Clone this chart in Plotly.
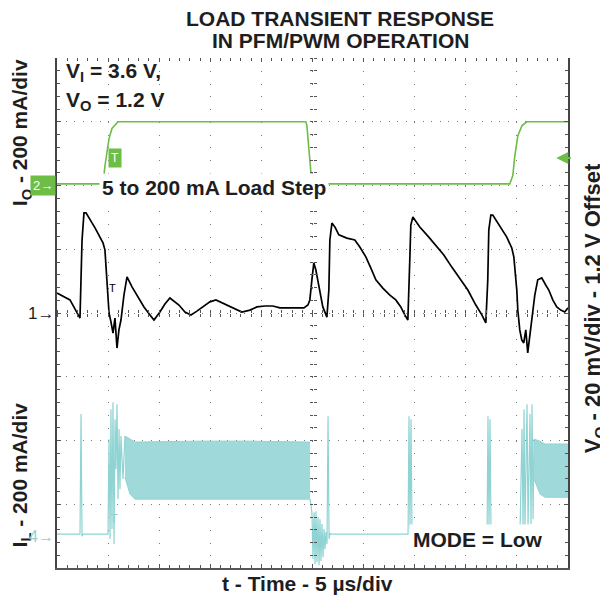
import plotly.graph_objects as go

# ---------------- data ----------------
# time base: 5 us/div, 10 divisions
T_RANGE = [0, 50]

# Channel 2 : output current I_O (mA), 200 mA/div, ground marker at +2 div
io_t = [0.0, 4.5, 4.7, 4.9, 5.09, 5.38, 5.67, 5.97, 15.0, 24.35, 24.45, 24.65, 24.84, 24.94,
        35.0, 44.3, 44.6, 44.8, 45.1, 45.5, 45.97, 50.0]
io_mA = [5, 5, 63, 110, 147, 179, 191, 200, 200, 200, 188, 110, 38, 5,
         5, 5, 31, 94, 157, 188, 200, 200]

# Channel 1 : output voltage deviation V_O (mV, 1.2 V offset), 20 mV/div, marker at 0 div
vo_t = [0.0, 1.27, 2.25, 2.45, 2.64, 2.84, 3.72, 4.5, 4.69, 4.89, 5.09, 5.28, 5.48, 5.67, 5.87,
        6.06, 6.26, 6.55, 6.85, 7.34, 7.92, 8.51, 9.1, 9.49, 10.07, 10.56, 11.05, 11.54, 11.93,
        12.52, 13.11, 13.69, 14.28, 14.96, 15.55, 16.23, 16.92, 18.09, 18.88, 19.56, 20.34,
        21.12, 21.81, 22.59, 23.37, 24.16, 24.55, 24.74, 24.94, 25.13, 25.33, 25.53, 25.82,
        26.01, 26.41, 26.6, 26.7, 26.9, 27.19, 27.58, 28.36, 29.14, 29.63, 30.22, 30.71, 31.2,
        31.88, 32.57, 33.15, 33.64, 34.03, 34.33, 34.52, 34.62, 34.82, 35.5, 36.38, 37.07,
        37.85, 38.63, 39.41, 40.2, 40.98, 41.57, 41.96, 42.15, 42.25, 42.45, 42.64, 43.33,
        44.01, 44.5, 44.7, 44.99, 45.09, 45.28, 45.48, 45.67, 45.87, 46.06, 46.26, 46.45,
        46.75, 47.04, 47.43, 47.82, 48.12, 48.51, 48.9, 49.29, 49.68, 50.0]
vo_mV = [6.3, 4.1, -1.6, 22.9, 31.4, 31.4, 26.7, 22.0, 19.8, 8.2, 0.0, -2.8, -6.3, -1.6, -11.0,
         -5.3, -2.2, 5.6, 11.3, 8.2, 5.0, 1.9, -0.6, -2.2, 0.3, 2.8, 4.7, 3.5, 2.5,
         0.3, -0.6, 0.6, 1.9, 3.5, 4.1, 3.1, 1.9, 0.3, 0.9, 1.9, 2.2,
         2.2, 1.6, 1.6, 1.6, 1.6, 2.5, 4.1, 10.4, 15.7, 13.5, 10.4, 5.6,
         1.9, -1.3, 7.2, 22.9, 28.2, 27.0, 24.5, 23.5, 22.9, 20.7, 17.6, 14.1, 10.4,
         7.8, 5.6, 4.1, 1.9, -0.6, -2.2, 16.6, 27.6, 30.1, 27.0, 23.8, 21.0,
         18.2, 14.4, 11.0, 7.2, 2.5, -0.6, -3.1, 10.4, 26.0, 30.7, 30.7, 27.0,
         23.8, 20.4, 17.6, 7.2, 0.9, -5.3, -8.5, -9.4, -5.3, -12.5, -6.9, -2.2,
         5.6, 10.4, 11.0, 8.8, 7.2, 4.1, 1.9, 0.9, 0.3, 1.6]

# Channel 4 : inductor current I_L (mA), 200 mA/div, ground marker at -3.5 div
il_t = [0.0, 2.25, 2.35, 2.45, 2.55, 4.89, 4.99, 5.09, 5.19, 5.28, 5.38, 5.48, 5.58, 5.68, 5.77,
        5.87, 5.97, 6.07, 6.16, 6.26, 6.46, 6.65, None,
        24.76, 24.85, 24.95, 25.05, 25.15, 25.25, 25.34, 25.44, 25.54, 25.64, 25.73, 25.83,
        25.93, 26.03, 26.13, 26.22, 26.32, 26.42, 26.52, 26.62, 26.71, 26.81, 34.35, 34.44,
        34.54, 34.64, 34.74, 42.08, 42.17, 42.27, 42.37, 42.47, 45.30, 45.50, 45.60, 45.70,
        45.79, 45.99, 46.09, 46.28, 46.38, 46.48, 46.58, 46.68]
il_mA = [6, 6, 383, 0, 6, 6, 6, 304, -9, 398, 22, 420, -25, 367, 210,
         414, 116, 336, 147, 314, 179, 314, None,
         116, 100, 69, -72, 75, -88, 78, -82, 60, -91, 53, -78,
         38, -66, 22, -41, 13, -25, 376, -9, 9, 6, 6, 376,
         22, 367, 6, 6, 376, 22, 367, 6, 6, 336, 22, 398,
         22, 414, 28, 383, 38, 414, 53, 304]

# PWM switching ripple envelopes of I_L (mA)
band1_t = [6.65, 7.14, 7.63, 13.99, 18.88, 24.76]
band1_hi = [314, 304, 295, 298, 298, 295]
band1_lo = [185, 132, 116, 116, 116, 116]
band2_t = [46.68, 47.26, 47.75, 50.0]
band2_hi = [304, 298, 289, 289]
band2_lo = [179, 132, 122, 122]

# channel scale (units/div) and offset (div)
CH1_SCALE, CH1_OFF = 20.0, 0.0
CH2_SCALE, CH2_OFF = 200.0, 2.0
CH4_SCALE, CH4_OFF = 200.0, -3.5

GREEN = "#6dbd47"
CYAN = "#8fd3d3"
BAND = "#a0d9d9"
INK = "#1e1e1e"
FONT = "Liberation Sans, Arial, sans-serif"


def to_div(vals, scale, off):
    return [None if v is None else off + v / scale for v in vals]


fig = go.Figure()

# I_L ripple bands
for bt, bhi, blo in [(band1_t, band1_hi, band1_lo), (band2_t, band2_hi, band2_lo)]:
    fig.add_trace(go.Scatter(x=bt, y=to_div(bhi, CH4_SCALE, CH4_OFF), mode="lines",
                             line=dict(color=CYAN, width=1), hoverinfo="skip"))
    fig.add_trace(go.Scatter(x=bt, y=to_div(blo, CH4_SCALE, CH4_OFF), mode="lines",
                             line=dict(color=CYAN, width=1), fill="tonexty",
                             fillcolor=BAND, hoverinfo="skip"))

fig.add_trace(go.Scatter(x=il_t, y=to_div(il_mA, CH4_SCALE, CH4_OFF), mode="lines",
                         line=dict(color=CYAN, width=1.2), connectgaps=False))
fig.add_trace(go.Scatter(x=io_t, y=to_div(io_mA, CH2_SCALE, CH2_OFF), mode="lines",
                         line=dict(color=GREEN, width=1.6)))
fig.add_trace(go.Scatter(x=vo_t, y=to_div(vo_mV, CH1_SCALE, CH1_OFF), mode="lines",
                         line=dict(color="black", width=1.7)))

TICK = "#555555"
GRID = "#7a7a7a"
common_minor_x = dict(dtick=1, tick0=0, ticks="inside", ticklen=3, tickcolor=TICK, showgrid=False)
common_minor_y = dict(dtick=0.2, tick0=0, ticks="inside", ticklen=3, tickcolor=TICK, showgrid=False)

# the page adds an 8 px body margin, so the figure is 8 px smaller and margins shifted
fig.update_layout(
    width=600, height=598,
    margin=dict(l=49, r=40, t=50, b=38),
    plot_bgcolor="white", paper_bgcolor="white",
    showlegend=False,
    font=dict(family=FONT, color=INK),
    xaxis=dict(range=T_RANGE, dtick=5, tick0=0, showticklabels=False,
               showgrid=True, gridcolor=GRID, gridwidth=1, griddash="1.2px,11.55px",
               zeroline=False, showline=True, linecolor="#555", linewidth=2,
               ticks="inside", ticklen=4, tickcolor=TICK, minor=common_minor_x),
    yaxis=dict(range=[-4, 4], dtick=1, tick0=0, showticklabels=False,
               showgrid=True, gridcolor=GRID, gridwidth=1, griddash="1.2px,7.3px",
               zeroline=False, showline=True, mirror="ticks", linecolor="#444", linewidth=2,
               ticks="inside", ticklen=4, tickcolor=TICK, minor=common_minor_y),
    # top border ticks
    xaxis2=dict(range=T_RANGE, overlaying="x", side="top", anchor="y", dtick=5, tick0=0,
                showticklabels=False, showgrid=False, zeroline=False, showline=False,
                ticks="inside", ticklen=4, tickcolor=TICK, minor=common_minor_x),
    # centre horizontal line ticks (both directions)
    xaxis3=dict(range=T_RANGE, overlaying="x", anchor="free", position=0.5, side="bottom",
                dtick=1, tick0=0, showticklabels=False, showgrid=False, zeroline=False,
                showline=False, ticks="outside", ticklen=3, tickcolor=TICK),
    xaxis4=dict(range=T_RANGE, overlaying="x", anchor="free", position=0.5, side="top",
                dtick=1, tick0=0, showticklabels=False, showgrid=False, zeroline=False,
                showline=False, ticks="outside", ticklen=3, tickcolor=TICK),
    # centre vertical line ticks (both directions)
    yaxis2=dict(range=[-4, 4], overlaying="y", anchor="free", position=0.5, side="left",
                dtick=0.2, tick0=0, showticklabels=False, showgrid=False, zeroline=False,
                showline=False, ticks="outside", ticklen=3, tickcolor=TICK),
    yaxis3=dict(range=[-4, 4], overlaying="y", anchor="free", position=0.5, side="right",
                dtick=0.2, tick0=0, showticklabels=False, showgrid=False, zeroline=False,
                showline=False, ticks="outside", ticklen=3, tickcolor=TICK),
)

# dummy invisible traces so the decorative axes are drawn
for xa, ya in [("x2", "y"), ("x3", "y"), ("x4", "y"), ("x", "y2"), ("x", "y3")]:
    fig.add_trace(go.Scatter(x=[None], y=[None], xaxis=xa, yaxis=ya, mode="lines",
                             hoverinfo="skip"))

BIG = dict(family=FONT, size=21, color=INK, weight="bold")


def ann(text, x, y, xanchor="center", yanchor="middle", font=None, **kw):
    fig.add_annotation(text=text, x=x, y=y, xref="paper", yref="paper",
                       xanchor=xanchor, yanchor=yanchor, showarrow=False,
                       font=font or BIG, **kw)


# titles
ann("LOAD TRANSIENT RESPONSE", 0.554, 1.078)
ann("IN PFM/PWM OPERATION", 0.554, 1.035)

# axis labels
ann("I<sub>O</sub> - 200 mA/div", -0.070, 0.853, textangle=-90)
ann("I<sub>L</sub> - 200 mA/div", -0.070, 0.182, textangle=-90)
ann("V<sub>O</sub> - 20 mV/div - 1.2 V Offset", 1.0515, 0.51, textangle=-90,
    font=dict(family=FONT, size=22, color=INK, weight="bold"))
ann("t - Time - 5 µs/div", 0.491, -0.031)

# in-plot notes
ann("V<sub>I</sub> = 3.6 V,", 0.014, 0.9725, xanchor="left")
ann("V<sub>O</sub> = 1.2 V", 0.014, 0.9157, xanchor="left")
ann("5 to 200 mA Load Step", 0.307, 0.747, bgcolor="white", borderpad=2)
ann("MODE = Low", 0.824, 0.055, bgcolor="white", borderpad=3)

# channel markers
fig.add_annotation(text="2→", x=-0.002, y=CH2_OFF, xref="paper", yref="y", xanchor="right",
                   yanchor="middle", showarrow=False, bgcolor=GREEN, borderpad=2,
                   font=dict(family=FONT, size=13, color="white"))
fig.add_annotation(text="1→", x=-0.002, y=CH1_OFF, xref="paper", yref="y", xanchor="right",
                   yanchor="middle", showarrow=False,
                   font=dict(family=FONT, size=17, color=INK))
fig.add_annotation(text="4→", x=-0.002, y=CH4_OFF, xref="paper", yref="y", xanchor="right",
                   yanchor="middle", showarrow=False,
                   font=dict(family=FONT, size=16, color=CYAN))
# trigger-level marker at right (green arrow pointing left)
fig.add_annotation(text="", x=0.977, y=0.804, xref="paper", yref="paper", showarrow=True,
                   ax=16, ay=0, arrowhead=2, arrowsize=1.2, arrowwidth=2, arrowcolor=GREEN,
                   standoff=0)
# trigger position markers
fig.add_annotation(text="T", x=0.0998, y=0.8235, xref="paper", yref="paper", showarrow=False,
                   bgcolor=GREEN, borderpad=2, font=dict(family=FONT, size=12, color="white"))
fig.add_annotation(text="T", x=0.0978, y=0.549, xref="paper", yref="paper", showarrow=False,
                   font=dict(family=FONT, size=11, color="black"))
fig.add_annotation(text="T", x=0.0998, y=0.078, xref="paper", yref="paper", showarrow=False,
                   font=dict(family=FONT, size=13, color=CYAN))

fig.write_html("out.html")
